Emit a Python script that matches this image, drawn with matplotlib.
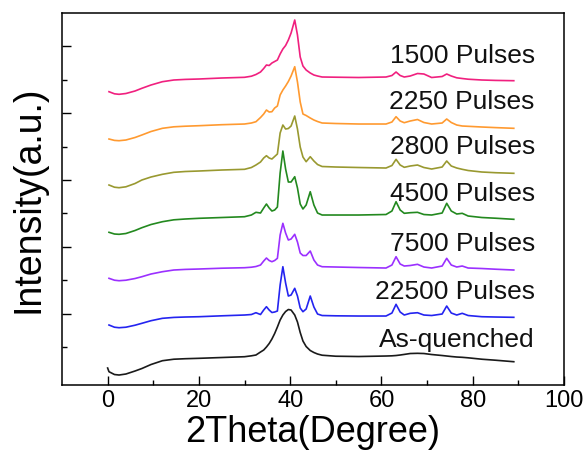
import numpy as np
import matplotlib
matplotlib.use("Agg")
import matplotlib.pyplot as plt
from matplotlib.ticker import MultipleLocator, FixedLocator

plt.rcParams['font.family'] = ['Liberation Sans', 'DejaVu Sans']

# 2theta grid (degrees) shared by the pulsed samples
theta = [0.3, 1.5, 2.5, 4, 6, 7.5, 9.5, 12, 14.5, 17, 20, 25, 30, 31.5, 32.5, 33.5,
         34.2, 34.8, 35.4, 36, 36.6, 37.2, 37.8, 38.4, 39.0, 39.6, 40.2, 41, 41.6,
         42.2, 42.8, 43.5, 44.4, 45.2, 46, 47, 50, 55, 61, 62.3, 63.2, 64.1, 65,
         66.3, 67.9, 69.3, 71, 73.3, 74.3, 75.3, 76.5, 77.7, 79, 82, 85, 89]

# stacked intensities (a.u., offsets included)
p1500 = [293.3, 291.2, 290.7, 291.5, 294, 296.7, 300, 303.3, 305, 305.6, 306, 307, 307.7,
         308.8, 310.5, 313, 316.5, 320, 319.5, 322, 323.5, 325, 331, 336, 339.5, 345,
         352, 365, 350, 328, 319, 315, 312, 310, 309, 308, 307.8, 307.5, 308, 309.5,
         313, 309.5, 308, 309, 311.5, 311, 307.5, 308.5, 311, 309, 307.2, 306.5,
         305.8, 305, 304.6, 304.3]
p2250 = [246, 244.6, 244.3, 245, 247.5, 250, 253.5, 256.7, 258.2, 258.8, 259.3, 260.3, 261,
         262, 263.3, 267.5, 271, 275, 273, 273.3, 277, 279, 290, 295, 299, 303.5,
         309, 318.3, 303, 283, 271, 269.5, 267, 265, 263.5, 262, 261.5, 261, 261, 263,
         268.3, 264, 262.3, 264, 265.5, 262.5, 261, 262, 266, 262.5, 260, 259,
         258.7, 258, 257.4, 256.7]
p2800 = [200, 197.8, 197.3, 198.2, 201.5, 205, 208, 210.7, 212.7, 213.5, 214, 215, 215.7,
         217.5, 220, 223, 227, 229.3, 227, 226, 228.5, 231, 252, 260, 256, 256.5,
         259, 269, 256, 238, 228, 223.3, 228.3, 224, 220.5, 218.5, 218, 217.5, 217, 219.5,
         225.7, 220, 217.7, 219, 220, 217.5, 216, 218, 224, 219, 217, 215.7,
         214.5, 213, 212.3, 211.7]
p4500 = [152.7, 151, 150.7, 151.5, 154.5, 157.3, 160.5, 163.3, 165.2, 166, 166.7, 167.5, 168.3,
         170, 172.7, 172, 177, 181, 177, 174, 175, 178, 212, 234, 216, 203,
         203, 208.3, 197, 181, 176, 180, 193.3, 180, 172, 170, 170, 170, 170.5, 174,
         183.3, 175, 171.7, 172.3, 172.7, 170.5, 170, 172, 181.7, 174, 171, 171.7,
         169, 167.5, 166.8, 165.7]
p7500 = [106.7, 104.8, 104.3, 104.8, 106.5, 108.3, 111, 113.3, 115, 115.6, 116, 116.8, 117.3,
         117.8, 118.5, 120, 124, 127, 124.5, 123.3, 124.5, 126.7, 150, 161.7, 152, 145,
         146, 150.7, 143, 132, 129.5, 129.5, 134, 125, 120, 118.3, 118, 117.5, 117, 120,
         128.3, 121, 119, 119.5, 120.7, 118, 117, 119, 126.7, 120, 118, 119,
         117, 116.5, 115.8, 115]
p22500 = [60, 57.8, 57.3, 57.8, 59.8, 61.7, 64.3, 66.7, 67.6, 68, 68.3, 69.2, 70,
          70.5, 72.3, 70.5, 75, 78.3, 75, 72.5, 73, 74, 100, 118.3, 102, 89,
          90, 96.7, 89, 77, 73.3, 76, 89, 78, 71, 69.5, 69.2, 69, 69, 72,
          80.7, 73, 70, 71.7, 72.3, 70, 69.5, 71, 79, 72, 70, 71.7,
          69.5, 68.3, 68, 67.7]

theta_aq = [0.0] + theta
as_quenched = [17, 13.3, 10.5, 10, 11, 14, 16.5, 20.5, 24.3, 25.8, 26.3, 26.7, 27.5, 28.3,
               29.2, 30, 33, 35, 38, 41.5, 46, 51.5, 58, 65, 70, 73.5, 75.5,
               75, 70, 63, 52.5, 44, 38.5, 34.5, 32.5, 31, 29.8, 28.8, 28.5, 29, 29.2,
               29.5, 30, 30.6, 31.5, 31.7, 31.5, 30.5, 29.5, 29, 28.5, 28, 27.7,
               27.2, 25.8, 24.8, 23.3]

labels = ['1500 Pulses', '2250 Pulses', '2800 Pulses', '4500 Pulses',
          '7500 Pulses', '22500 Pulses', 'As-quenched']
label_y = [321.7, 275.7, 230.7, 184, 134, 86, 38.3]
colors = ['#F0207F', '#FF9A30', '#999930', '#23891F', '#9B30FF', '#2424F0', '#1a1a1a']

fig = plt.figure(figsize=(5.87, 4.5), dpi=100)
ax = fig.add_axes([0.1056, 0.1444, 0.8552, 0.8267])

series = [p1500, p2250, p2800, p4500, p7500, p22500]
for ys, c in zip(series, colors[:6]):
    ax.plot(theta, ys, color=c, lw=1.2)
ax.plot(theta_aq, as_quenched, color=colors[6], lw=1.2)

for lab, yl in zip(labels, label_y):
    ax.text(93.6, yl, lab, ha='right', va='baseline', fontsize=19, color='#111111')

ax.set_xlim(-10, 100)
ax.set_ylim(0, 372)
ax.xaxis.set_major_locator(MultipleLocator(20))
ax.xaxis.set_minor_locator(FixedLocator([10, 30, 50, 70, 90]))
ax.yaxis.set_major_locator(FixedLocator([71.4, 138.2, 205, 271.8, 338.6]))
ax.yaxis.set_minor_locator(FixedLocator([38, 104.8, 171.6, 238.4, 305.2]))
ax.set_yticklabels([])
ax.tick_params(which='both', direction='in', width=1.0, top=False, right=False)
ax.tick_params(which='major', length=6.2, labelsize=17)
ax.tick_params(which='minor', length=3.8)
for s in ax.spines.values():
    s.set_linewidth(1.1)

ax.set_xlabel('2Theta(Degree)', fontsize=26, labelpad=2)
ax.set_ylabel('Intensity(a.u.)', fontsize=27, labelpad=8)

fig.savefig('out.png', dpi=100)
